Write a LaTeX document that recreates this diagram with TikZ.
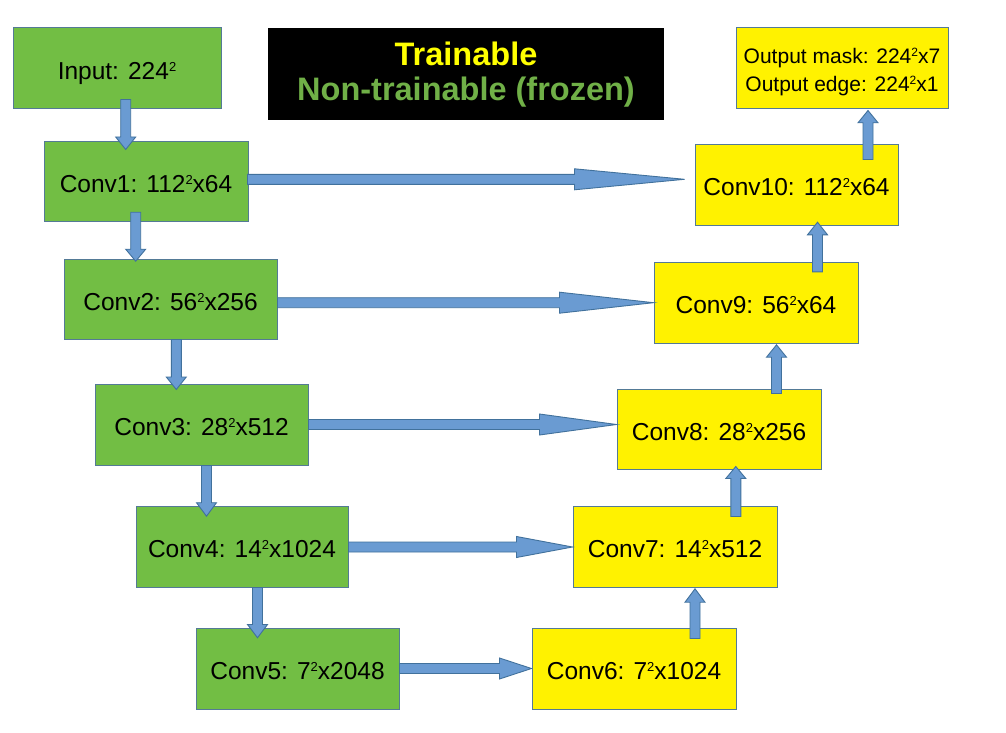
\documentclass[tikz,border=0pt]{standalone}
\usepackage{fontspec}
\setmainfont{Liberation Sans}
\usetikzlibrary{calc}
\definecolor{boxgreen}{RGB}{114,190,68}
\definecolor{boxyellow}{RGB}{255,242,0}
\definecolor{bordercol}{RGB}{84,122,150}
\definecolor{arrowfill}{RGB}{106,155,210}
\definecolor{arrowdraw}{RGB}{65,113,156}
\definecolor{titleyellow}{RGB}{255,255,0}
\definecolor{titlegreen}{RGB}{112,176,71}
\newcommand\sq{\raisebox{0.33em}{\fontsize{13}{13}\selectfont 2}}
\newcommand\sqs{\raisebox{0.33em}{\fontsize{12}{12}\selectfont 2}}
% horizontal block arrow: #1 start, #2 tip (x used), #3 head length
\newcommand\harrow[3]{%
  \filldraw[blockarrow] let \p1=#1, \p2=#2 in
    ({\x1},{\y1+5pt}) -- ({\x2-#3},{\y1+5pt}) -- ({\x2-#3},{\y1+10.5pt}) -- ({\x2},{\y1})
    -- ({\x2-#3},{\y1-10.5pt}) -- ({\x2-#3},{\y1-5pt}) -- ({\x1},{\y1-5pt}) -- cycle;}
% vertical block arrow: #1 start, #2 tip (y used), #3 signed head length
\newcommand\varrow[3]{%
  \filldraw[blockarrow] let \p1=#1, \p2=#2 in
    ({\x1-5pt},{\y1}) -- ({\x1-5pt},{\y2+(#3)}) -- ({\x1-10pt},{\y2+(#3)}) -- ({\x1},{\y2})
    -- ({\x1+10pt},{\y2+(#3)}) -- ({\x1+5pt},{\y2+(#3)}) -- ({\x1+5pt},{\y1}) -- cycle;}
\tikzset{
  box/.style={draw=bordercol, line width=1pt, inner sep=0pt, anchor=center,
    font=\fontsize{24.5}{28}\selectfont, text height=22.5pt, text depth=0pt},
  gbox/.style={box, fill=boxgreen},
  ybox/.style={box, fill=boxyellow},
  blockarrow/.style={fill=arrowfill, draw=arrowdraw, line width=0.9pt, line join=miter},
  titlebox/.style={fill=black, inner sep=0pt, align=center,
    font=\fontsize{32.5}{35}\selectfont\bfseries},
  outbox/.style={draw=bordercol, line width=1pt, inner sep=0pt, fill=boxyellow,
    align=center, font=\fontsize{21}{28}\selectfont}
}
\begin{document}
\begin{tikzpicture}[x=1pt,y=-1pt]
\fill[white] (0,0) rectangle (1006,733);
\useasboundingbox (0,0) rectangle (1006,733);

% encoder (green)
\node[gbox, minimum width=208pt, minimum height=81pt] (in) at (117,68.5) {Input: 224\sq};
\node[gbox, minimum width=204pt, minimum height=80pt] (c1) at (146,181) {Conv1: 112\sq x64};
\node[gbox, minimum width=213pt, minimum height=80pt] (c2) at (170.5,299) {Conv2: 56\sq x256};
\node[gbox, minimum width=213pt, minimum height=81pt] (c3) at (201.5,424.5) {Conv3: 28\sq x512};
\node[gbox, minimum width=212pt, minimum height=81pt] (c4) at (242,546.5) {Conv4: 14\sq x1024};
\node[gbox, minimum width=203pt, minimum height=81pt] (c5) at (297.5,668.5) {Conv5: 7\sq x2048};

% decoder (yellow)
\node[ybox, minimum width=204pt, minimum height=81pt] (c6) at (634,668.5) {Conv6: 7\sq x1024};
\node[ybox, minimum width=204pt, minimum height=81pt] (c7) at (675,546.5) {Conv7: 14\sq x512};
\node[ybox, minimum width=204pt, minimum height=80pt] (c8) at (719,429) {Conv8: 28\sq x256};
\node[ybox, minimum width=204pt, minimum height=81pt] (c9) at (756,302.5) {Conv9: 56\sq x64};
\node[ybox, minimum width=203pt, minimum height=81pt] (c10) at (796.5,184.5) {Conv10: 112\sq x64};
\node[outbox, minimum width=212pt, minimum height=81pt] (out) at (842,68.5)
  {\rule{0pt}{22pt}Output mask: 224\sqs x7\\Output edge: 224\sqs x1};

% legend
\node[titlebox, minimum width=396pt, minimum height=92pt] (title) at (466,74.5)
  {\textcolor{titleyellow}{Trainable}\\\textcolor{titlegreen}{Non-trainable (frozen)}};

% down arrows
\varrow{([xshift=8.7pt,yshift=10pt]in.south)}{([yshift=-9pt]c1.north)}{12.5pt}
\varrow{([xshift=-10.3pt,yshift=9.3pt]c1.south)}{([yshift=-2.7pt]c2.north)}{12pt}
\varrow{([xshift=5.8pt]c2.south)}{([yshift=-6pt]c3.north)}{12.5pt}
\varrow{([xshift=5pt]c3.south)}{([yshift=-10.7pt]c4.north)}{13.5pt}
\varrow{([xshift=15.5pt]c4.south)}{([yshift=-10.3pt]c5.north)}{13.3pt}

% up arrows
\varrow{([xshift=61pt,yshift=-11pt]c6.north)}{([yshift=-1.3pt]c7.south)}{-13.4pt}
\varrow{([xshift=60.8pt,yshift=-11pt]c7.north)}{([yshift=3pt]c8.south)}{-12pt}
\varrow{([xshift=57.5pt,yshift=-5pt]c8.north)}{([yshift=-1.3pt]c9.south)}{-12.4pt}
\varrow{([xshift=61.5pt,yshift=-10.3pt]c9.north)}{([yshift=3.3pt]c10.south)}{-12.6pt}
\varrow{([xshift=71.5pt,yshift=-16pt]c10.north)}{([yshift=-1pt]out.south)}{-12.3pt}

% skip connections
\harrow{([xshift=-1pt,yshift=1.7pt]c1.east)}{([xshift=-10pt]c10.west)}{110pt}
\harrow{([yshift=-3.7pt]c2.east)}{(c9.west)}{94pt}
\harrow{(c3.east)}{(c8.west)}{77pt}
\harrow{([yshift=-0.5pt]c4.east)}{(c7.west)}{56pt}
\harrow{(c5.east)}{(c6.west)}{32pt}
\end{tikzpicture}
\end{document}
